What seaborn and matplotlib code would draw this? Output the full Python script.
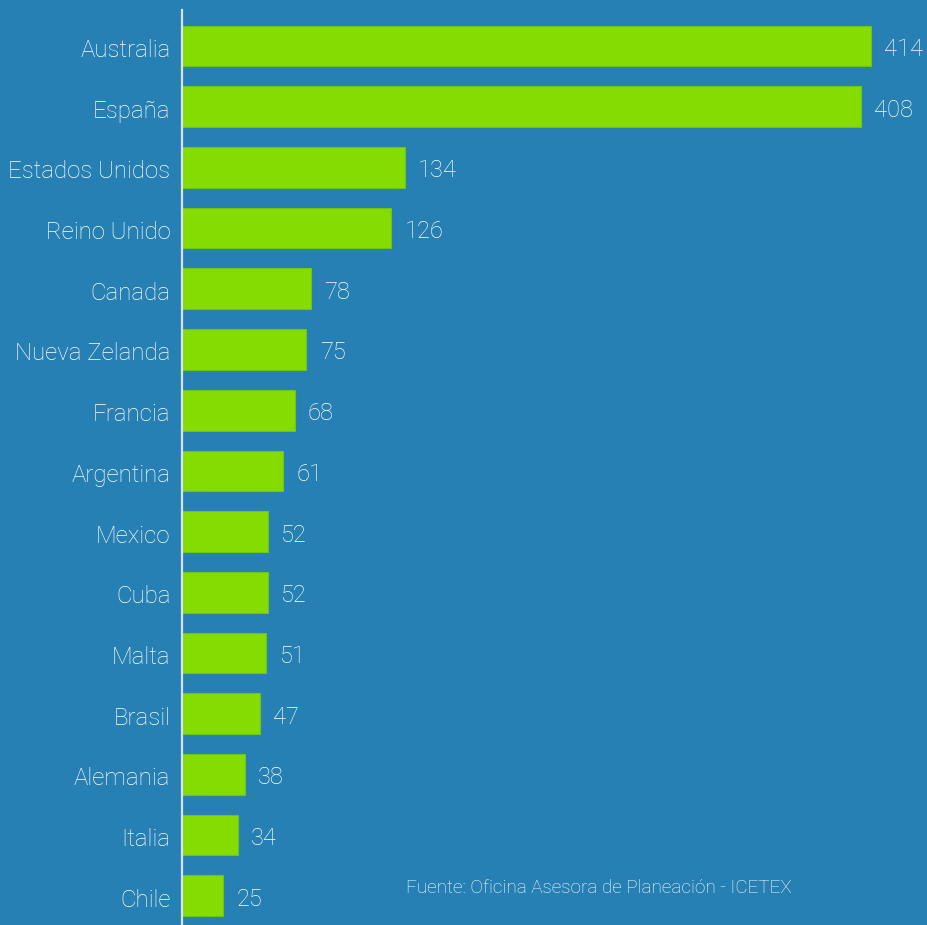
import matplotlib
matplotlib.use('Agg')
import matplotlib.pyplot as plt
import matplotlib.transforms as mtransforms
import seaborn as sns
import pandas as pd

paises = ['Australia', 'España', 'Estados Unidos', 'Reino Unido', 'Canada',
          'Nueva Zelanda', 'Francia', 'Argentina', 'Mexico', 'Cuba', 'Malta',
          'Brasil', 'Alemania', 'Italia', 'Chile']
valores = [414, 408, 134, 126, 78, 75, 68, 61, 52, 52, 51, 47, 38, 34, 25]

fondo = '#2680b3'
verde = '#84dc00'

sns.set_style('white')
plt.rcParams['font.family'] = ['Roboto', 'DejaVu Sans']
plt.rcParams['font.weight'] = 'light'

df = pd.DataFrame({'pais': paises, 'valor': valores})

fig = plt.figure(figsize=(9.27, 9.25), dpi=100, facecolor=fondo)
ax = fig.add_axes([181.5 / 927, 0, 1 - 181.5 / 927, 1 - 10 / 925])
ax.set_facecolor(fondo)

sns.barplot(data=df, x='valor', y='pais', orient='h', color=verde,
            width=0.67, edgecolor='#70c414', linewidth=0.8, saturation=1, ax=ax)

ax.set_xlim(0, 447.6)
ax.set_ylim(14.481, -0.593)
ax.set_xlabel('')
ax.set_ylabel('')
ax.set_xticks([])

for s in ['top', 'right', 'bottom']:
    ax.spines[s].set_visible(False)
ax.spines['left'].set_color('#d5e3ee')
ax.spines['left'].set_linewidth(1.6)

# etiquetas de paises, un poco bajadas como en el original
ax.tick_params(axis='y', length=0, pad=8, labelsize=17.3, labelcolor='white')
shift = mtransforms.ScaledTranslation(0, -2 / 100, fig.dpi_scale_trans)
for lab in ax.get_yticklabels():
    lab.set_fontweight('light')
    lab.set_transform(lab.get_transform() + shift)

for i, v in enumerate(valores):
    ax.annotate(str(v), xy=(v, i), xytext=(9.5, -2.5), textcoords='offset points',
                ha='left', va='center', color='white', fontsize=17, fontweight='light')

fig.text(406 / 927, 1 - 888 / 925, 'Fuente: Oficina Asesora de Planeación - ICETEX',
         ha='left', va='center', color='white', fontsize=13.6, fontweight='light')

fig.savefig('out.png', dpi=100, facecolor=fondo)
